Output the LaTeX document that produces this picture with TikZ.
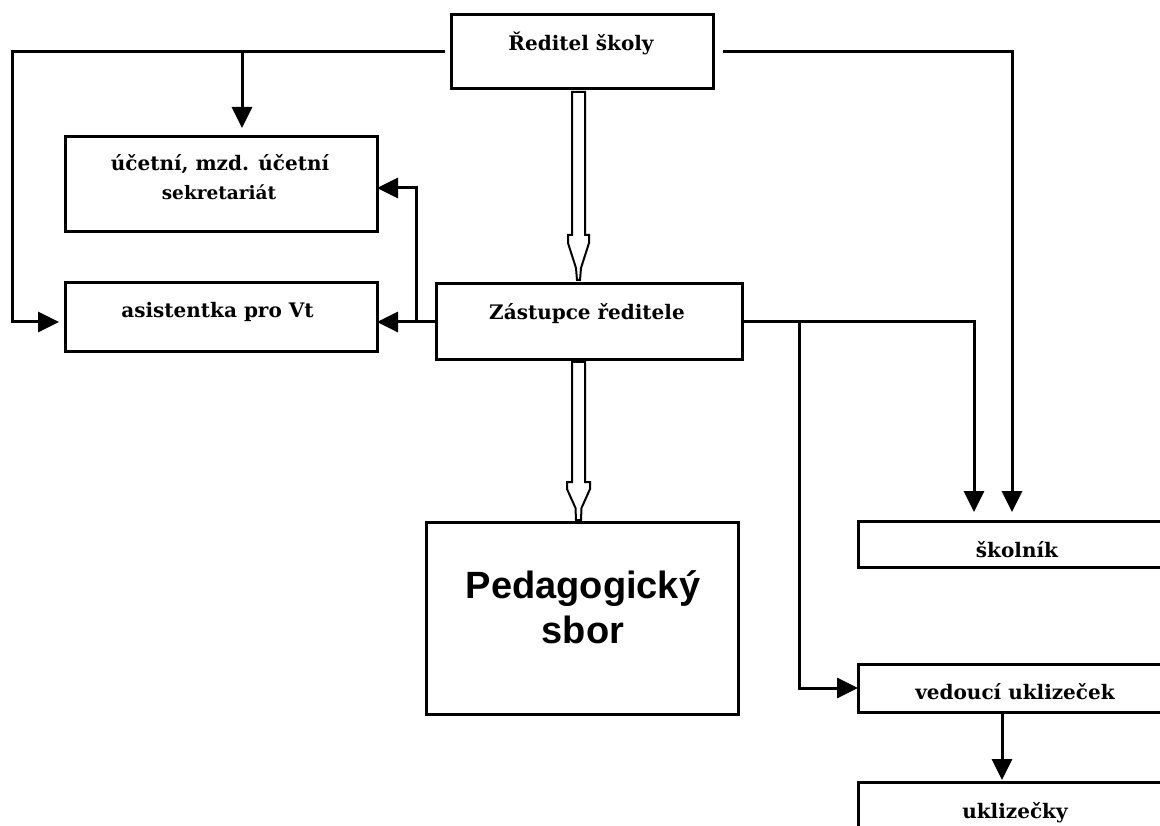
\documentclass[tikz,border=0pt]{standalone}
\usepackage{fontspec}
\setmainfont{DejaVu Serif}
\newfontfamily\pedfont{Liberation Sans}
\usetikzlibrary{arrows.meta,calc}
\begin{document}
\begin{tikzpicture}[x=1pt,y=-1pt,
  box/.style={draw,line width=3pt,inner sep=0pt,outer sep=0pt},
  conn/.style={line width=3pt},
  arr/.style={conn,-{Triangle[length=21pt,width=20pt]}},
  lbl/.style={inner sep=0pt,font=\fontsize{20}{24}\selectfont\bfseries},
  hollow/.style={draw,line width=2pt,fill=white,line join=miter}]
\useasboundingbox (0,0) rectangle (1160,826);
\clip (0,0) rectangle (1160,826);

% boxes
\node[box,minimum width=262,minimum height=74] (top) at (582,52) {};
\node[box,minimum width=312,minimum height=95] (acc) at (221,184.5) {};
\node[box,minimum width=312,minimum height=69] (asis) at (221,317.5) {};
\node[box,minimum width=306,minimum height=76] (zast) at (589,322) {};
\node[box,minimum width=312,minimum height=192] (ped) at (582,618) {};
\node[box,minimum width=314,minimum height=46] (skol) at (1015,544) {};
\node[box,minimum width=314,minimum height=48] (ved) at (1015,688) {};
\node[box,minimum width=314,minimum height=68] (ukl) at (1015,816) {};

% texts
\node[lbl,anchor=base] (tTop) at (581,51) {Ředitel školy};
\node[lbl,anchor=base] (tAcc1) at (220,171) {účetní, mzd. účetní};
\node[lbl,anchor=base,font=\fontsize{18.5}{22}\selectfont\bfseries] (tAcc2) at (219,200) {sekretariát};
\node[lbl,anchor=base] (tAsis) at (217.5,318) {asistentka pro Vt};
\node[lbl,anchor=base] (tZast) at (587,320) {Zástupce ředitele};
\node[lbl,anchor=base] (tSkol) at (1017,557) {školník};
\node[lbl,anchor=base] (tVed) at (1015,699) {vedoucí uklizeček};
\node[lbl,anchor=base] (tUkl) at (1015,818) {uklizečky};
\node[inner sep=0pt,align=center,anchor=base,font=\pedfont\bfseries\fontsize{38}{45}\selectfont] (tPed) at (583,643) {Pedagogický\\sbor};

% helper coordinates
\coordinate (lft) at (12,322);
\coordinate (bA) at (242,52);
\coordinate (bB) at (416,322);
\coordinate (rT) at (1012,52);
\coordinate (rZ) at (974,322);
\coordinate (bC) at (799,322);

% connectors
\draw[arr,shorten >=6pt] ([xshift=-6pt]top.west) -| (lft) -- (asis.west |- lft);
\draw[arr,shorten >=9pt] (bA) -- (bA |- acc.north);
\draw[arr] (zast.west) -- (zast.west -| asis.east);
\draw[arr] (bB) |- ([yshift=-3.5pt]acc.east);
\draw[arr,shorten >=9pt] ([xshift=10pt]top.east) -| (rT |- skol.north);
\draw[arr,shorten >=9pt] (zast.east) -| (rZ |- skol.north);
\draw[arr] (bC) |- (ved.west);
\draw[arr,shorten >=2pt] ([xshift=-13pt]ved.south) -- ([xshift=-13pt]ukl.north);

% hollow arrows
\coordinate (a1) at ($(top.south)+(-3.5,0)$);
\coordinate (e1) at ($(zast.north)+(-10.5,-4)$);
\draw[hollow] ([xshift=-6.5pt,yshift=-3pt]a1) -- ([xshift=6.5pt,yshift=-3pt]a1)
  -- ([xshift=6.5pt,yshift=45pt]e1) -- ([xshift=10.5pt,yshift=45pt]e1)
  -- ([xshift=10.5pt,yshift=37pt]e1) -- ([xshift=2.5pt,yshift=12pt]e1)
  -- ([xshift=1.5pt]e1) -- ([xshift=-1.5pt]e1)
  -- ([xshift=-2.5pt,yshift=12pt]e1) -- ([xshift=-10.5pt,yshift=37pt]e1)
  -- ([xshift=-10.5pt,yshift=45pt]e1) -- ([xshift=-6.5pt,yshift=45pt]e1) -- cycle;

\coordinate (a2) at ($(zast.south)+(-10.5,0)$);
\coordinate (e2) at ($(ped.north)+(-3.5,-2)$);
\draw[hollow] ([xshift=-6.5pt,yshift=-2pt]a2) -- ([xshift=6.5pt,yshift=-2pt]a2)
  -- ([xshift=6.5pt,yshift=38pt]e2) -- ([xshift=11.5pt,yshift=38pt]e2)
  -- ([xshift=11.5pt,yshift=31pt]e2) -- ([xshift=3pt,yshift=12pt]e2)
  -- ([xshift=2.5pt]e2) -- ([xshift=-2.5pt]e2)
  -- ([xshift=-3pt,yshift=12pt]e2) -- ([xshift=-11.5pt,yshift=31pt]e2)
  -- ([xshift=-11.5pt,yshift=38pt]e2) -- ([xshift=-6.5pt,yshift=38pt]e2) -- cycle;
\end{tikzpicture}
\end{document}
